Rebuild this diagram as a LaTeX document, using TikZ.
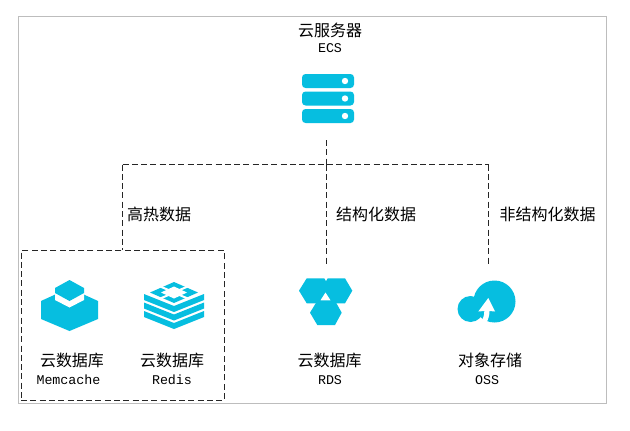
\documentclass[tikz,border=0pt]{standalone}
\usepackage{fontspec}
\setmainfont{Liberation Mono}
\newfontfamily\cjk{Noto Sans CJK SC}
\definecolor{iconblue}{HTML}{06BEE0}
\definecolor{framegray}{HTML}{BDBDBD}
\tikzset{
  zh/.style={inner sep=0pt,font=\cjk\fontsize{16}{16}\selectfont,text=black},
  en/.style={inner sep=0pt,font=\fontsize{13.33}{14}\selectfont,text=black},
  wire/.style={draw=black!85,line width=1pt,dash pattern=on 6pt off 3.3pt},
  ic/.style={fill=iconblue,draw=none},
  wh/.style={fill=white,draw=none}
}
\begin{document}
\begin{tikzpicture}[x=1pt,y=-1pt]
\useasboundingbox (0,0) rectangle (630,431);
\fill[white] (0,0) rectangle (630,431);
\draw[framegray,line width=1pt] (18.5,16.5) rectangle (606.5,403.5);
% labels
\node[zh] (ecsA) at (330,30) {云服务器};
\node[en] (ecsB) at (330,48) {ECS};
\node[zh] (memA) at (72,360) {云数据库};
\node[en] (memB) at (68.5,380) {Memcache};
\node[zh] (redA) at (172,360) {云数据库};
\node[en] (redB) at (172,380) {Redis};
\node[zh] (rdsA) at (329.5,360) {云数据库};
\node[en] (rdsB) at (330,380) {RDS};
\node[zh] (ossA) at (490,360) {对象存储};
\node[en] (ossB) at (487,380) {OSS};
\node[zh,anchor=west] (hot) at (127,214) {高热数据};
\node[zh,anchor=west] (struct) at (336,214) {结构化数据};
\node[zh,anchor=west] (unstruct) at (499.5,214) {非结构化数据};
% connectors
\node[inner sep=0pt,minimum width=203pt,minimum height=150pt,wire] (cachebox) at (122.5,325.5) {};
\coordinate (ecsOut) at (326.5,140);
\coordinate (jl) at (122.5,164.5);
\coordinate (jm) at (326.5,164.5);
\coordinate (jr) at (488.5,164.5);
\coordinate (rdsIn) at (326.5,265);
\coordinate (ossIn) at (488.5,265);
\draw[wire] (ecsOut) -- (jm);
\draw[wire] (jl) -- (jr);
\draw[wire] (jl) -- (jl |- cachebox.north);
\draw[wire] (jm) -- (rdsIn);
\draw[wire] (jr) -- (ossIn);
% ECS icon
\foreach \y in {74,91.5,109}{
  \fill[ic,rounded corners=3.5pt] (302,\y) rectangle (354,\y+14);
  \fill[wh] (345,\y+7) circle (3.2);
}
% Memcache icon
\fill[ic] (41,301) -- (69.5,288) -- (98,301) -- (98,319) -- (69.5,331) -- (41,319) -- cycle;
\fill[wh] (55,292) -- (84,292) -- (84,300) -- (69.5,307.5) -- (55,300) -- cycle;
\fill[ic] (69.5,280) -- (84,288) -- (84,293) -- (69.5,301) -- (55,293) -- (55,288) -- cycle;
% Redis icon
\foreach \t/\b in {294/300,302.5/308.5,311/317}{
  \fill[ic] (144,\t) -- (174,\t+12) -- (204,\t) -- (204,\b) -- (174,\b+12) -- (144,\b) -- cycle;
}
\fill[wh] (148,292.5) -- (174,304.5) -- (200,292.5) -- (174,280.5) -- cycle;
\fill[ic] (174,282) -- (198,292.5) -- (174,303) -- (150,292.5) -- cycle;
\fill[wh] (174,286.5) -- (187,292.5) -- (174,298.5) -- (161,292.5) -- cycle;
\draw[white,line width=2pt] (159,286) -- (169,290.2) (189,286) -- (179,290.2)
  (159,299) -- (169,294.8) (189,299) -- (179,294.8);
% RDS icon
\fill[ic] (299,290.7) -- (306.7,278.3) -- (324.3,278.3) -- (331.5,290.7) -- (324.3,303.3) -- (306.7,303.3) -- cycle;
\fill[ic] (352.3,290.7) -- (345,278.3) -- (327.7,278.3) -- (320.5,290.7) -- (327.7,303.3) -- (345,303.3) -- cycle;
\fill[ic] (310,312.7) -- (317.3,300.7) -- (335,300.7) -- (341.7,312.7) -- (335,325) -- (317.3,325) -- cycle;
\fill[wh] (325.5,292.5) -- (330.5,300.3) -- (320.5,300.3) -- cycle;
% OSS icon
\fill[ic] (494.5,301.5) circle (21);
\fill[ic] (470.5,309) circle (13);
\fill[wh] (488.3,298) -- (495,311.5) -- (489.5,311) .. controls (489.5,316) and (488,320) .. (486,323.5) -- (480.5,323.5) .. controls (483,319) and (484.5,315) .. (484.3,311) -- (478.3,311.5) -- cycle;
\end{tikzpicture}
\end{document}
